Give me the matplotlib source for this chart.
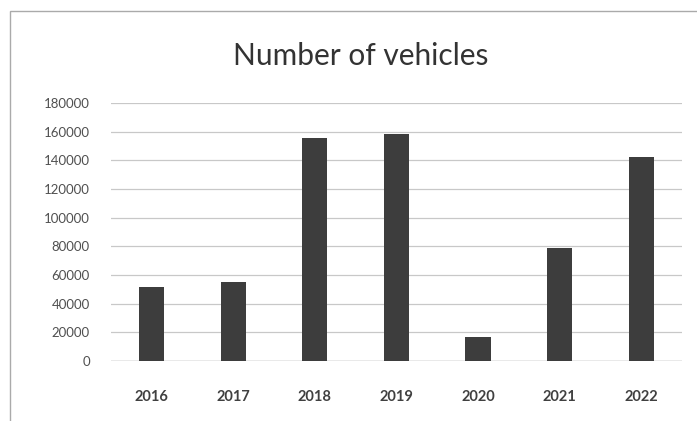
import matplotlib
matplotlib.use("Agg")
import matplotlib.pyplot as plt
from matplotlib.patches import Rectangle

# データ
years = ["2016", "2017", "2018", "2019", "2020", "2021", "2022"]
vehicles = [51500, 55000, 155500, 158500, 17000, 79000, 142000]
y_ticks = [0, 20000, 40000, 60000, 80000, 100000, 120000, 140000, 160000, 180000]

plt.rcParams["font.family"] = ["Lato", "DejaVu Sans"]

fig = plt.figure(figsize=(6.97, 4.21), dpi=100, facecolor="white")
ax = fig.add_axes([0.159, 0.1425, 0.8195, 0.6128])

ax.bar(range(len(years)), vehicles, width=0.31, color="#3d3d3d", zorder=3)

ax.set_xlim(-0.5, len(years) - 0.5)
ax.set_ylim(0, 180000)
ax.set_yticks(y_ticks)
ax.set_yticklabels([str(v) for v in y_ticks])
ax.set_xticks(range(len(years)))
ax.set_xticklabels(years)

ax.grid(axis="y", color="#c8c8c8", linewidth=0.9, zorder=0)
for s in ax.spines.values():
    s.set_visible(False)
ax.axhline(0, color="#b0b0b0", linewidth=1.0, zorder=2)

ax.tick_params(axis="y", length=0, pad=15, labelsize=9.5, labelcolor="#505050")
ax.tick_params(axis="x", length=0, pad=21, labelsize=10.5, labelcolor="#404040")
for t in ax.get_xticklabels():
    t.set_fontweight("bold")

fig.text(0.518, 0.866, "Number of vehicles", ha="center", va="center",
         fontsize=21.5, color="#333333")

# 外枠
fig.patches.append(Rectangle((10 / 697, -0.1), 1.2, (421 - 11) / 421 + 0.1,
                             transform=fig.transFigure, fill=False,
                             edgecolor="#aaaaaa", linewidth=1.0))

fig.savefig("out.png", dpi=100, facecolor="white")
